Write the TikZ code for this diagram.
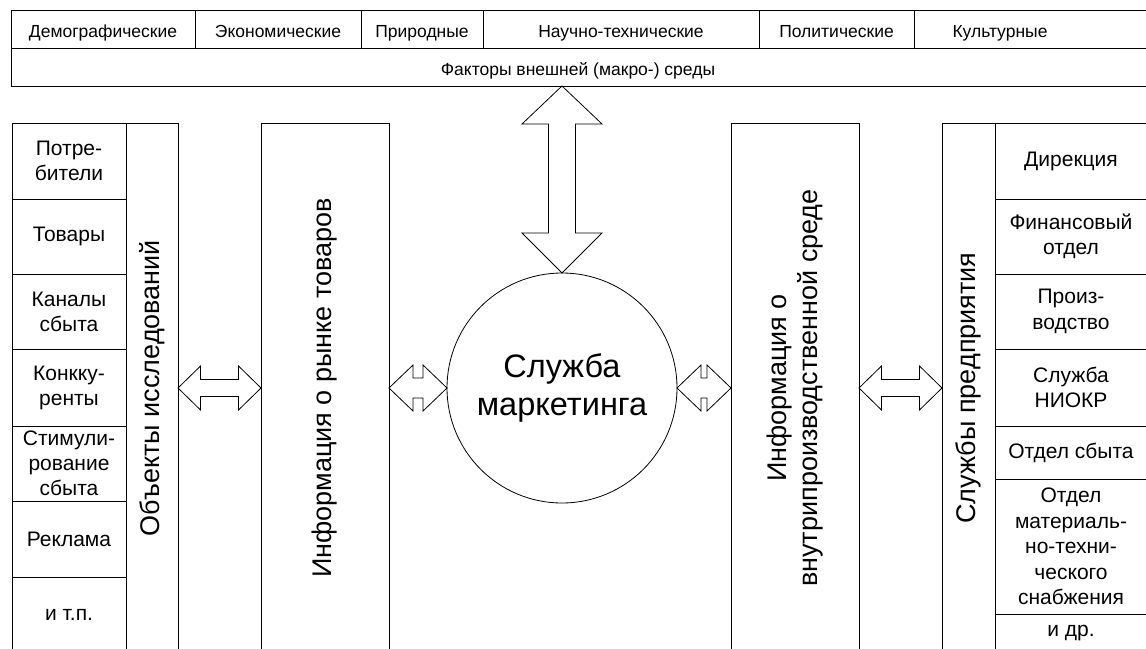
\documentclass[tikz,border=0pt]{standalone}
\usepackage{fontspec}
\setmainfont{Liberation Sans}
\newcommand\hdarrow[6]{% x1,x2,y,headlen,headhalf,shafthalf
  \draw[blk] (#1,#3) -- ++(#4,-#5) -- ++(0,#5-#6) -- ({#2-#4},{#3-#6}) -- ++(0,#6-#5) -- (#2,#3)
    -- ++(-#4,#5) -- ++(0,#6-#5) -- ({#1+#4},{#3+#6}) -- ++(0,#5-#6) -- cycle;}
\begin{document}
\begin{tikzpicture}[x=1pt,y=-1pt,line width=0.8pt,
  cbox/.style={draw, inner sep=0pt, align=center},
  hfont/.style={font=\fontsize{17.5}{20}\selectfont, text height=19.5pt, text depth=3.5pt},
  hdr/.style={cbox, minimum height=38pt},
  cell/.style={cbox, font=\fontsize{21}{25}\selectfont, minimum width=114pt},
  rcell/.style={cbox, font=\fontsize{21}{25.5}\selectfont, minimum width=152pt},
  vbox/.style={cbox, rotate=90, font=\fontsize{27}{31}\selectfont, minimum width=530pt},
  blk/.style={draw, fill=white, line join=miter}]
\clip (0,0) rectangle (1146,648);
\fill[white] (0,0) rectangle (1146,648);
% header
\node[hdr, minimum width=184pt] (h1) at (103,29) {};
\node[hdr, minimum width=166pt] (h2) at (278,29) {};
\node[hdr, minimum width=122pt] (h3) at (422,29) {};
\node[hdr, minimum width=276pt] (h4) at (621,29) {};
\node[hdr, minimum width=155pt] (h5) at (836.5,29) {};
\node[hdr, minimum width=250pt] (h6) at (1039,29) {};
\node[hfont] (h1t) at (h1) {Демографические};
\node[hfont] (h2t) at (h2) {Экономические};
\node[hfont] (h3t) at (h3) {Природные};
\node[hfont] (h4t) at (h4) {Научно-технические};
\node[hfont] (h5t) at (h5) {Политические};
\node[hfont] (h6t) at (1000,29) {Культурные};
\node[hdr, minimum width=1160pt, anchor=west] (macro) at (11,67) {};
\node[hfont] (macrot) at (578,67) {Факторы внешней (макро-) среды};
% left cells
\node[cell, minimum height=76pt] (l1) at (69,161) {Потре-\\бители};
\node[cell, minimum height=75pt] (l2) at (69,236.5) {Товары};
\node[cell, minimum height=75pt] (l3) at (69,311.5) {Каналы\\сбыта};
\node[cell, minimum height=77pt] (l4) at (69,387.5) {Конкку-\\ренты};
\node[cell, minimum height=75pt] (l5) at (69,463.5) {Стимули-\\рование\\сбыта};
\node[cell, minimum height=76pt] (l6) at (69,539) {Реклама};
\node[cell, minimum height=76pt] (l7) at (69,615) {и т.п.};
% right cells
\node[rcell, minimum height=76pt] (r1) at (1071,161) {Дирекция};
\node[rcell, minimum height=75pt] (r2) at (1071,236.5) {Финансовый\\отдел};
\node[rcell, minimum height=75pt] (r3) at (1071,311.5) {Произ-\\водство};
\node[rcell, minimum height=77pt] (r4) at (1071,387.5) {Служба\\НИОКР};
\node[rcell, minimum height=53pt] (r5) at (1071,452.5) {Отдел сбыта};
\node[rcell, minimum height=135pt] (r6) at (1071,546.5) {Отдел\\материаль-\\но-техни-\\ческого\\снабжения};
\node[rcell, minimum height=38pt] (r7) at (1071,633) {и др.};
% vertical boxes
\node[vbox, minimum height=52pt] (obj) at (152,388) {Объекты исследований};
\node[vbox, minimum height=128pt] (inf1) at (325,388) {Информация о рынке товаров};
\node[vbox, minimum height=128pt] (inf2) at (795,388) {Информация о\\внутрипроизводственной среде};
\node[vbox, minimum height=53pt] (serv) at (968.5,388) {Службы предприятия};
% circle
\node[draw, circle, minimum size=230pt, inner sep=0pt, align=center,
      font=\fontsize{32.5}{38}\selectfont] (sm) at (562,388) {Служба\\маркетинга};
% block arrows
\hdarrow{178}{261}{388}{22.5}{22}{8.5}
\hdarrow{389}{447}{388}{24}{23}{10}
\hdarrow{677}{731}{388}{24}{23}{10}
\hdarrow{859}{942}{388}{22.5}{22}{8.5}
\draw[blk] (562,86) -- (602,124) -- (575.5,124) -- (575.5,233) -- (602,233) -- (562,273)
  -- (522,233) -- (548.5,233) -- (548.5,124) -- (522,124) -- cycle;
\end{tikzpicture}
\end{document}
